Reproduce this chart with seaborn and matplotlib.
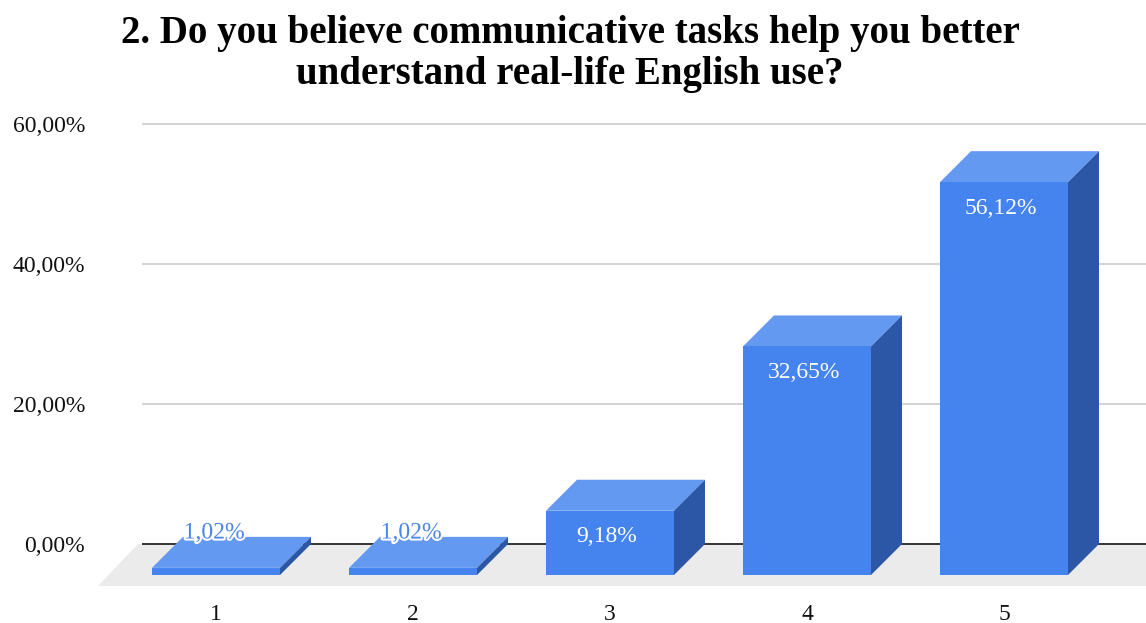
import matplotlib
matplotlib.use("Agg")
import matplotlib.pyplot as plt
import matplotlib.patheffects as pe
from matplotlib.patches import Polygon
import seaborn as sns
import pandas as pd

# ---- data ----
categories = ["1", "2", "3", "4", "5"]
values = [1.02, 1.02, 9.18, 32.65, 56.12]
value_labels = ["1,02%", "1,02%", "9,18%", "32,65%", "56,12%"]
ytick_values = [0, 20, 40, 60]
ytick_labels = ["0,00%", "20,00%", "40,00%", "60,00%"]
title_lines = ["2. Do you believe communicative tasks help you better",
               "understand real-life English use?"]

# ---- style ----
FRONT = "#4584EE"
TOP = "#6399F1"
SIDE = "#2B57A6"
FLOOR = "#EBEBEB"
GRID = "#CCCCCC"
TEXT = "#111111"
SERIF = ["Liberation Serif", "DejaVu Serif"]

sns.set_style("white")
plt.rcParams["font.family"] = SERIF

W, H = 1146, 623
fig = plt.figure(figsize=(W / 100, H / 100), dpi=100)

# pixel geometry
px_per_val = 7.0           # px per 1 %
px_per_cat = 197.0         # px between categories
zero_px = 544.0            # y pixel of 0 %
cat0_px = 216.0            # x pixel of first front face center
ax_left_px, ax_right_px = 92.0, 1146.0
ax_top_px, ax_bot_px = 115.0, 590.0

ax = fig.add_axes([ax_left_px / W, (H - ax_bot_px) / H,
                   (ax_right_px - ax_left_px) / W, (ax_bot_px - ax_top_px) / H])

DY = 31 / px_per_val       # depth offset in value units
DX = 31 / px_per_cat       # depth offset in category units
FLOOR_DY = 42 / px_per_val
FLOOR_DX = 40 / px_per_cat
bar_w = 128 / px_per_cat

df = pd.DataFrame({"cat": categories, "val": values})
sns.barplot(data=df, x="cat", y="val", color=FRONT, saturation=1, width=bar_w,
            bottom=-DY, ax=ax, zorder=5, linewidth=0, edgecolor=FRONT)

xlim = ((ax_left_px - cat0_px) / px_per_cat, (ax_right_px - cat0_px) / px_per_cat)
ylim = ((zero_px - ax_bot_px) / px_per_val, (zero_px - ax_top_px) / px_per_val)
ax.set_xlim(*xlim)
ax.set_ylim(*ylim)

grid_x0 = (142 - cat0_px) / px_per_cat
floor_x0 = (138 - cat0_px) / px_per_cat

# floor
floor = Polygon([(floor_x0, 0), (xlim[1] + 0.5, 0),
                 (xlim[1] + 0.5 - FLOOR_DX, -FLOOR_DY), (floor_x0 - FLOOR_DX, -FLOOR_DY)],
                closed=True, facecolor=FLOOR, edgecolor="none", zorder=1, clip_on=True)
ax.add_patch(floor)

# gridlines and zero line
ax.hlines([v for v in ytick_values if v != 0], grid_x0, xlim[1], colors=GRID, linewidth=1.2, zorder=0)
ax.hlines([0], grid_x0, xlim[1], colors="#333333", linewidth=1.4, zorder=2)

# 3D faces derived from the bars seaborn drew
bars = [p for p in ax.patches if not isinstance(p, Polygon)]
for p in bars:
    x0, w = p.get_x(), p.get_width()
    y0, h = p.get_y(), p.get_height()
    x1, y1 = x0 + w, y0 + h
    top = Polygon([(x0, y1), (x1, y1), (x1 + DX, y1 + DY), (x0 + DX, y1 + DY)],
                  closed=True, facecolor=TOP, edgecolor="none", zorder=4)
    side = Polygon([(x1, y0), (x1 + DX, y0 + DY), (x1 + DX, y1 + DY), (x1, y1)],
                   closed=True, facecolor=SIDE, edgecolor="none", zorder=4)
    ax.add_patch(top)
    ax.add_patch(side)

# data labels
for i, (v, lab) in enumerate(zip(values, value_labels)):
    if v * px_per_val < 40:
        t = ax.text(i - 0.01, v + 0.55, lab, ha="center", va="center",
                    fontsize=17, color="#4A86E8", zorder=10, family=SERIF)
        t.set_path_effects([pe.withStroke(linewidth=3, foreground="white")])
    else:
        ax.text(i - 0.015, v - DY - 3.75, lab, ha="center", va="center",
                fontsize=17, color="white", zorder=10, family=SERIF)

# ticks
ax.set_yticks(ytick_values)
ax.set_yticklabels(ytick_labels, fontsize=17, family=SERIF, color=TEXT)
ax.set_xticks(range(len(categories)))
ax.set_xticklabels(categories, fontsize=17, family=SERIF, color=TEXT)
ax.tick_params(axis="y", length=0, pad=5)
ax.tick_params(axis="x", length=0, pad=10)
ax.set_xlabel("")
ax.set_ylabel("")
sns.despine(ax=ax, left=True, bottom=True)
ax.grid(False)

for line, base_px in zip(title_lines, [43, 84]):
    fig.text(570 / W, 1 - base_px / H, line, ha="center", va="baseline", fontsize=28,
             fontweight="bold", family=SERIF, color="black")

fig.savefig("out.png", dpi=100, facecolor="white")
